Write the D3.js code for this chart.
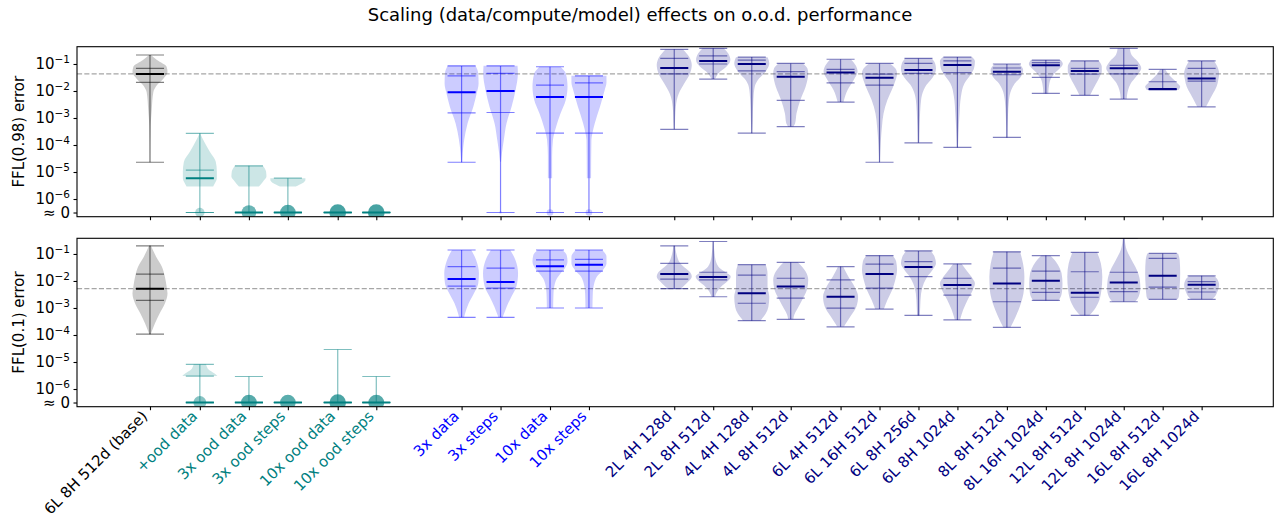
<!DOCTYPE html>
<html>
<head>
<meta charset="utf-8">
<script src="https://cdn.jsdelivr.net/npm/d3@7"></script>
<style>
  body { margin: 0; background: #fff; }
  svg text { font-family: "DejaVu Sans", sans-serif; }
</style>
</head>
<body>
<svg id="chart" width="1275" height="518"></svg>
<script>
// ---- data ----
var labels = ['6L 8H 512d (base)', '+ood data', '3x ood data', '3x ood steps', '10x ood data', '10x ood steps',
  '3x data', '3x steps', '10x data', '10x steps',
  '2L 4H 128d', '2L 8H 512d', '4L 4H 128d', '4L 8H 512d', '6L 4H 512d', '6L 16H 512d', '6L 8H 256d', '6L 8H 1024d',
  '8L 8H 512d', '8L 16H 1024d', '12L 8H 512d', '12L 8H 1024d', '16L 8H 512d', '16L 8H 1024d'];
var groups = ['base', 'ood', 'ood', 'ood', 'ood', 'ood', 'scale', 'scale', 'scale', 'scale',
  'model', 'model', 'model', 'model', 'model', 'model', 'model', 'model', 'model', 'model', 'model', 'model', 'model', 'model'];
// x value of each violin (data units)
var xPos = [0, 1.28, 2.54, 3.54, 4.82, 5.81, 8, 9, 10.27, 11.27,
  13.46, 14.46, 15.45, 16.45, 17.73, 18.73, 19.73, 20.73, 22, 23, 24, 25, 26, 27];

// [min, q1, median, q3, max]; 0 means "≈ 0"
var p1Stats = [
  [2.3e-5, 2.1e-2, 4.3e-2, 6.9e-2, 2.15e-1],
  [0, 0, 5.9e-6, 1.17e-5, 2.7e-4],
  [0, 0, 0, 0, 1.7e-5],
  [0, 0, 0, 0, 5.9e-6],
  [0, 0, 0, 0, 0],
  [0, 0, 0, 0, 0],
  [2.3e-5, 1.55e-3, 8.9e-3, 3.6e-2, 8.5e-2],
  [0, 1.6e-3, 1.0e-2, 4.5e-2, 8.5e-2],
  [0, 2.75e-4, 6.0e-3, 1.66e-2, 7.9e-2],
  [0, 2.75e-4, 6.0e-3, 2.0e-2, 3.6e-2],
  [3.8e-4, 4.3e-2, 7.1e-2, 1.6e-1, 3.5e-1],
  [2.75e-2, 1.0e-1, 1.3e-1, 2.0e-1, 3.8e-1],
  [2.75e-4, 5.6e-2, 1.0e-1, 1.4e-1, 1.8e-1],
  [4.8e-4, 4.5e-3, 3.4e-2, 5.2e-2, 1.05e-1],
  [3.9e-3, 2.0e-2, 4.8e-2, 6.3e-2, 1.5e-1],
  [2.3e-5, 1.66e-2, 3.1e-2, 4.2e-2, 1.05e-1],
  [1.2e-4, 4.5e-2, 6.0e-2, 1.05e-1, 1.6e-1],
  [8.1e-5, 4.8e-2, 9.1e-2, 1.3e-1, 1.8e-1],
  [1.9e-4, 4.0e-2, 5.2e-2, 7.1e-2, 1.0e-1],
  [8.1e-3, 3.2e-2, 8.9e-2, 1.12e-1, 1.4e-1],
  [6.9e-3, 4.2e-2, 5.5e-2, 6.9e-2, 1.3e-1],
  [5.0e-3, 4.3e-2, 6.9e-2, 8.9e-2, 3.8e-1],
  [1.1e-2, 1.15e-2, 1.18e-2, 2.2e-2, 6.3e-2],
  [2.6e-3, 2.3e-2, 2.9e-2, 6.9e-2, 1.3e-1]
];
var p2Stats = [
  [1.07e-4, 1.9e-3, 5.2e-3, 1.8e-2, 2.0e-1],
  [0, 0, 0, 3.0e-6, 8.1e-6],
  [0, 0, 0, 0, 2.9e-6],
  [0, 0, 0, 0, 0],
  [0, 0, 0, 0, 2.9e-5],
  [0, 0, 0, 0, 2.9e-6],
  [4.5e-4, 6.5e-3, 1.18e-2, 3.4e-2, 1.4e-1],
  [4.5e-4, 5.4e-3, 9.1e-3, 3.0e-2, 1.4e-1],
  [1.0e-3, 2.3e-2, 3.5e-2, 6.0e-2, 1.4e-1],
  [1.0e-3, 2.3e-2, 4.0e-2, 6.3e-2, 1.4e-1],
  [5.2e-3, 1.18e-2, 1.8e-2, 4.5e-2, 2.0e-1],
  [2.6e-3, 1.1e-2, 1.4e-2, 2.1e-2, 2.9e-1],
  [3.4e-4, 1.5e-3, 3.5e-3, 1.66e-2, 4.0e-2],
  [3.8e-4, 2.3e-3, 6.2e-3, 1.26e-2, 4.9e-2],
  [2.0e-4, 9.8e-4, 2.6e-3, 1.1e-2, 3.4e-2],
  [9.1e-4, 5.4e-3, 1.8e-2, 4.2e-2, 8.7e-2],
  [5.3e-4, 1.45e-2, 3.3e-2, 5.2e-2, 1.3e-1],
  [3.6e-4, 3.0e-3, 7.1e-3, 1.26e-2, 4.3e-2],
  [1.9e-4, 1.7e-3, 8.1e-3, 3.0e-2, 1.2e-1],
  [1.9e-3, 3.8e-3, 1.03e-2, 2.3e-2, 8.7e-2],
  [5.3e-4, 2.5e-3, 3.7e-3, 2.2e-2, 1.15e-1],
  [1.7e-3, 4.0e-3, 8.7e-3, 2.1e-2, 3.8e-1],
  [2.1e-3, 5.9e-3, 1.55e-2, 6.9e-2, 1.05e-1],
  [2.1e-3, 3.9e-3, 7.2e-3, 9.5e-3, 1.55e-2]
];

// share of runs at ≈ 0 (drawn as a dot on the zero line)
var p1Zero = [0, 0.32, 0.77, 0.88, 1, 1, 0, 0.03, 0.16, 0.16, 0, 0, 0, 0, 0, 0, 0, 0, 0, 0, 0, 0, 0, 0];
var p2Zero = [0, 0.6, 0.9, 0.88, 0.98, 0.9, 0, 0, 0, 0, 0, 0, 0, 0, 0, 0, 0, 0, 0, 0, 0, 0, 0, 0];

// violin outline of the non-zero runs: [log10 error, relative density]
var p1Shape = [
  [[-0.67, 0.05], [-0.85, 0.4], [-1.1, 0.95], [-1.3, 1.0], [-1.55, 0.76], [-1.8, 0.38], [-2.05, 0.19], [-2.7, 0.1], [-3.3, 0.04], [-4.64, 0.01]],
  [[-3.57, 0.02], [-3.88, 0.25], [-4.25, 0.57], [-4.62, 0.91], [-4.99, 0.97], [-5.23, 0.97], [-5.42, 0.86], [-5.54, 0.76]],
  [[-4.77, 0.8], [-4.99, 0.98], [-5.17, 1.0], [-5.36, 0.8], [-5.54, 0.57]],
  [[-5.23, 1.0], [-5.3, 1.0], [-5.54, 0.45]],
  [],
  [],
  [[-1.07, 0.8], [-1.35, 0.95], [-1.72, 0.97], [-2.09, 0.86], [-2.58, 0.67], [-3.2, 0.34], [-3.81, 0.15], [-4.31, 0.06], [-4.64, 0.03]],
  [[-1.07, 0.97], [-1.35, 0.99], [-1.96, 0.86], [-2.58, 0.63], [-3.2, 0.34], [-3.81, 0.19], [-4.31, 0.08], [-4.62, 0.03]],
  [[-1.1, 0.6], [-1.35, 0.9], [-1.84, 1.0], [-2.33, 0.9], [-2.83, 0.6], [-3.32, 0.35], [-3.81, 0.17], [-4.43, 0.12], [-5.23, 0.12]],
  [[-1.44, 1.0], [-1.69, 1.0], [-1.96, 0.9], [-2.58, 0.63], [-3.2, 0.33], [-3.56, 0.2], [-3.81, 0.14], [-5.23, 0.12]],
  [[-0.46, 0.5], [-0.73, 0.85], [-1.04, 1.0], [-1.35, 0.9], [-1.72, 0.57], [-2.09, 0.26], [-2.58, 0.09], [-3.32, 0.03], [-3.42, 0.02]],
  [[-0.42, 0.6], [-0.6, 0.85], [-0.85, 0.98], [-1.1, 0.75], [-1.28, 0.4], [-1.47, 0.17], [-1.56, 0.1]],
  [[-0.75, 0.9], [-0.98, 1.0], [-1.22, 0.85], [-1.35, 0.7], [-1.59, 0.35], [-1.84, 0.17], [-2.33, 0.09], [-3.07, 0.05], [-3.56, 0.02]],
  [[-0.98, 0.7], [-1.16, 0.95], [-1.35, 1.0], [-1.84, 0.85], [-2.33, 0.55], [-2.83, 0.33], [-3.2, 0.25], [-3.32, 0.15]],
  [[-0.83, 0.6], [-1.04, 0.85], [-1.28, 0.97], [-1.59, 0.75], [-1.96, 0.4], [-2.41, 0.17]],
  [[-0.98, 0.6], [-1.16, 0.9], [-1.35, 1.0], [-1.72, 0.85], [-1.96, 0.7], [-2.33, 0.45], [-2.83, 0.23], [-3.32, 0.14], [-3.81, 0.08], [-4.31, 0.04], [-4.64, 0.02]],
  [[-0.79, 0.75], [-0.98, 0.95], [-1.16, 1.0], [-1.41, 0.9], [-1.59, 0.7], [-1.78, 0.45], [-1.96, 0.3], [-2.33, 0.15], [-3.2, 0.07], [-3.91, 0.04]],
  [[-0.75, 0.85], [-0.9, 1.0], [-1.16, 0.95], [-1.35, 0.8], [-1.72, 0.4], [-2.21, 0.2], [-2.83, 0.12], [-3.57, 0.06], [-4.09, 0.03]],
  [[-1.0, 0.7], [-1.22, 0.93], [-1.47, 0.8], [-1.72, 0.45], [-1.96, 0.25], [-2.33, 0.12], [-2.95, 0.06], [-3.73, 0.03]],
  [[-0.85, 0.85], [-1.0, 0.97], [-1.16, 0.8], [-1.35, 0.5], [-1.53, 0.3], [-1.72, 0.2], [-2.09, 0.14]],
  [[-0.88, 0.8], [-1.1, 0.97], [-1.28, 0.97], [-1.47, 0.85], [-1.72, 0.65], [-1.96, 0.45], [-2.16, 0.3]],
  [[-0.42, 0.35], [-0.67, 0.45], [-0.91, 0.8], [-1.16, 1.0], [-1.35, 0.85], [-1.47, 0.7], [-1.72, 0.4], [-1.96, 0.25], [-2.3, 0.17]],
  [[-1.2, 0.15], [-1.35, 0.3], [-1.53, 0.55], [-1.72, 0.85], [-1.84, 1.0], [-1.96, 0.9]],
  [[-0.88, 0.7], [-1.1, 0.9], [-1.35, 1.0], [-1.59, 0.95], [-1.84, 0.85], [-2.09, 0.65], [-2.33, 0.45], [-2.58, 0.25]]
];
var p2Shape = [
  [[-0.69, 0.05], [-1.1, 0.35], [-1.47, 0.68], [-1.84, 0.85], [-2.21, 0.95], [-2.46, 1.0], [-2.83, 0.85], [-3.2, 0.55], [-3.57, 0.28], [-3.97, 0.04]],
  [[-5.07, 0.35], [-5.3, 0.53], [-5.42, 0.82], [-5.52, 1.0]],
  [],
  [],
  [],
  [],
  [[-0.85, 0.55], [-1.22, 0.83], [-1.72, 0.99], [-2.09, 0.95], [-2.46, 0.7], [-2.83, 0.4], [-3.2, 0.2], [-3.35, 0.14]],
  [[-0.85, 0.55], [-1.22, 0.85], [-1.72, 1.0], [-2.21, 0.9], [-2.58, 0.62], [-2.95, 0.35], [-3.26, 0.17], [-3.35, 0.12]],
  [[-0.85, 0.7], [-1.04, 0.95], [-1.28, 1.0], [-1.53, 0.85], [-1.72, 0.6], [-1.9, 0.4], [-2.09, 0.28], [-2.46, 0.2], [-2.99, 0.18]],
  [[-0.85, 0.75], [-1.1, 1.0], [-1.35, 1.0], [-1.59, 0.8], [-1.84, 0.45], [-2.09, 0.3], [-2.46, 0.22], [-2.99, 0.2]],
  [[-0.7, 0.05], [-1.1, 0.17], [-1.35, 0.35], [-1.53, 0.65], [-1.72, 0.95], [-1.84, 1.0], [-2.02, 0.8], [-2.21, 0.5], [-2.28, 0.35]],
  [[-0.54, 0.03], [-1.1, 0.1], [-1.47, 0.3], [-1.65, 0.65], [-1.84, 1.0], [-2.02, 0.8], [-2.21, 0.45], [-2.4, 0.22], [-2.58, 0.1]],
  [[-1.4, 0.8], [-1.72, 0.9], [-2.21, 0.9], [-2.58, 1.0], [-2.95, 0.95], [-3.2, 0.8], [-3.38, 0.6], [-3.47, 0.5]],
  [[-1.31, 0.4], [-1.47, 0.65], [-1.65, 0.85], [-1.96, 1.0], [-2.33, 0.92], [-2.7, 0.65], [-3.07, 0.35], [-3.26, 0.2], [-3.42, 0.15]],
  [[-1.47, 0.15], [-1.84, 0.45], [-2.21, 0.8], [-2.58, 1.0], [-2.95, 0.9], [-3.32, 0.55], [-3.57, 0.3], [-3.69, 0.2]],
  [[-1.06, 0.75], [-1.28, 0.95], [-1.59, 1.0], [-1.96, 0.9], [-2.33, 0.72], [-2.7, 0.45], [-3.04, 0.25]],
  [[-0.88, 0.7], [-1.1, 0.92], [-1.35, 1.0], [-1.59, 0.8], [-1.84, 0.5], [-2.09, 0.3], [-2.46, 0.15], [-2.95, 0.1], [-3.28, 0.08]],
  [[-1.37, 0.25], [-1.59, 0.5], [-1.84, 0.8], [-2.09, 1.0], [-2.33, 0.88], [-2.7, 0.58], [-3.07, 0.33], [-3.44, 0.15]],
  [[-0.91, 0.75], [-1.35, 0.92], [-1.84, 1.0], [-2.33, 0.97], [-2.83, 0.8], [-3.32, 0.5], [-3.72, 0.2]],
  [[-1.06, 0.25], [-1.22, 0.5], [-1.47, 0.75], [-1.72, 0.9], [-2.09, 0.95], [-2.4, 0.92], [-2.65, 0.8], [-2.73, 0.7]],
  [[-0.94, 0.7], [-1.35, 0.92], [-1.84, 1.0], [-2.33, 0.95], [-2.83, 0.75], [-3.14, 0.45], [-3.28, 0.25]],
  [[-0.42, 0.05], [-0.85, 0.17], [-1.22, 0.45], [-1.59, 0.75], [-1.96, 0.92], [-2.27, 0.95], [-2.58, 0.85], [-2.77, 0.65]],
  [[-0.98, 0.88], [-1.22, 0.97], [-1.72, 1.0], [-2.21, 0.97], [-2.58, 0.92], [-2.68, 0.85]],
  [[-1.81, 0.7], [-1.96, 0.92], [-2.14, 1.0], [-2.4, 0.9], [-2.58, 0.75], [-2.68, 0.6]]
];

var ZERO = Math.pow(10, -6.5);          // where "≈ 0" sits on the log axis
var yTicks = [0, 1e-6, 1e-5, 1e-4, 1e-3, 1e-2, 1e-1];
var groupColor = { base: '#000000', ood: '#008080', scale: '#0000ff', model: '#000080' };

function yv(v) { return v === 0 ? ZERO : v; }

// ---- layout ----
var svg = d3.select('#chart');
var left = 77, right = 1273.3;
var fs = 15; // tick / label font size
var x = d3.scaleLinear().domain([-1.874, 28.84]).range([left, right]);
var wScale = d3.scaleLinear().domain([0, 1]).range([0, x(0.45) - x(0)]);
var capHalf = x(0.36) - x(0);
var rScale = d3.scaleSqrt().domain([0, 1]).range([0, 8.3]);
var oScale = d3.scaleLinear().domain([0, 1]).range([0.1, 0.72]);

var panels = [
  { top: 46.7, bottom: 216.7, yMax: Math.pow(10, -0.36), label: 'FFL(0.98) error', stats: p1Stats, shapes: p1Shape, zeros: p1Zero, xLabels: false },
  { top: 238.3, bottom: 406.7, yMax: Math.pow(10, -0.42), label: 'FFL(0.1) error', stats: p2Stats, shapes: p2Shape, zeros: p2Zero, xLabels: true }
];

svg.append('text')
  .attr('x', 640).attr('y', 21)
  .attr('text-anchor', 'middle')
  .style('font-size', '18px')
  .text('Scaling (data/compute/model) effects on o.o.d. performance');

panels.forEach(function(p, pi) {
  var y = d3.scaleLog().domain([Math.pow(10, -6.655), p.yMax]).range([p.bottom, p.top]);
  var g = svg.append('g');

  svg.append('clipPath').attr('id', 'clip' + pi)
    .append('rect')
    .attr('x', left).attr('y', p.top)
    .attr('width', right - left).attr('height', p.bottom - p.top);

  var plot = g.append('g').attr('clip-path', 'url(#clip' + pi + ')');

  // reference line at the base model median
  plot.append('line')
    .attr('x1', left).attr('x2', right)
    .attr('y1', y(p.stats[0][2])).attr('y2', y(p.stats[0][2]))
    .attr('stroke', '#a6a6a6').attr('stroke-width', 1.4)
    .attr('stroke-dasharray', '5.1,2.2');

  labels.forEach(function(name, i) {
    var cx = x(xPos[i]);
    var col = groupColor[groups[i]];
    var shape = p.shapes[i];

    if (shape.length) {
      var area = d3.area()
        .y(function(d) { return y(Math.pow(10, d[0])); })
        .x0(function(d) { return cx - wScale(d[1]); })
        .x1(function(d) { return cx + wScale(d[1]); })
        .curve(d3.curveMonotoneY);
      plot.append('path').datum(shape)
        .attr('d', area)
        .attr('fill', col).attr('fill-opacity', 0.2);
    }

    if (p.zeros[i] > 0) {
      plot.append('circle')
        .attr('cx', cx).attr('cy', y(ZERO))
        .attr('r', rScale(p.zeros[i]))
        .attr('fill', col).attr('fill-opacity', oScale(p.zeros[i]));
    }

    var s = p.stats[i].map(yv);
    if (s[4] > s[0]) {
      plot.append('line')
        .attr('x1', cx).attr('x2', cx)
        .attr('y1', y(s[4])).attr('y2', y(s[0]))
        .attr('stroke', col).attr('stroke-opacity', 0.5).attr('stroke-width', 1.2);
    }
    [s[0], s[1], s[3], s[4]].forEach(function(v) {
      plot.append('line')
        .attr('x1', cx - capHalf).attr('x2', cx + capHalf)
        .attr('y1', y(v)).attr('y2', y(v))
        .attr('stroke', col).attr('stroke-opacity', 0.5).attr('stroke-width', 1.2);
    });
    plot.append('line')
      .attr('x1', cx - capHalf).attr('x2', cx + capHalf)
      .attr('y1', y(s[2])).attr('y2', y(s[2]))
      .attr('stroke', col).attr('stroke-width', 2);
  });

  // frame
  g.append('rect')
    .attr('x', left).attr('y', p.top)
    .attr('width', right - left).attr('height', p.bottom - p.top)
    .attr('fill', 'none').attr('stroke', '#000').attr('stroke-width', 1.1);

  // y axis
  var ya = g.append('g').attr('transform', 'translate(' + left + ',0)')
    .call(d3.axisLeft(y).tickValues(yTicks.map(yv)).tickSize(3.5).tickPadding(3.5).tickFormat(function() { return ''; }));
  ya.select('.domain').remove();
  ya.selectAll('.tick line').attr('stroke', '#000').attr('stroke-width', 1.1);
  ya.selectAll('.tick text').each(function(d) {
    var t = d3.select(this).attr('fill', '#000').style('font-size', fs + 'px').attr('dy', '0.32em');
    if (d === ZERO) {
      t.text('\u2248 0');
    } else {
      t.append('tspan').text('10');
      t.append('tspan').attr('dy', -6.5).style('font-size', '10.5px').text('\u2212' + Math.round(-Math.log10(d)));
    }
  });

  g.append('text')
    .attr('transform', 'translate(23.5,' + ((p.top + p.bottom) / 2) + ') rotate(-90)')
    .attr('text-anchor', 'middle')
    .style('font-size', fs + 'px')
    .text(p.label);

  // x axis
  var xa = g.append('g').attr('transform', 'translate(0,' + p.bottom + ')')
    .call(d3.axisBottom(x).tickValues(xPos).tickSize(3.5).tickFormat(function(d, i) { return p.xLabels ? labels[i] : ''; }));
  xa.select('.domain').remove();
  xa.selectAll('.tick line').attr('stroke', '#000').attr('stroke-width', 1.1);
  xa.selectAll('.tick text')
    .attr('y', null).attr('dy', null)
    .attr('text-anchor', 'end')
    .attr('transform', 'translate(-2,10.5) rotate(-45)')
    .style('font-size', fs + 'px')
    .attr('fill', function(d, i) { return groupColor[groups[i]]; });
});
</script>
</body>
</html>
